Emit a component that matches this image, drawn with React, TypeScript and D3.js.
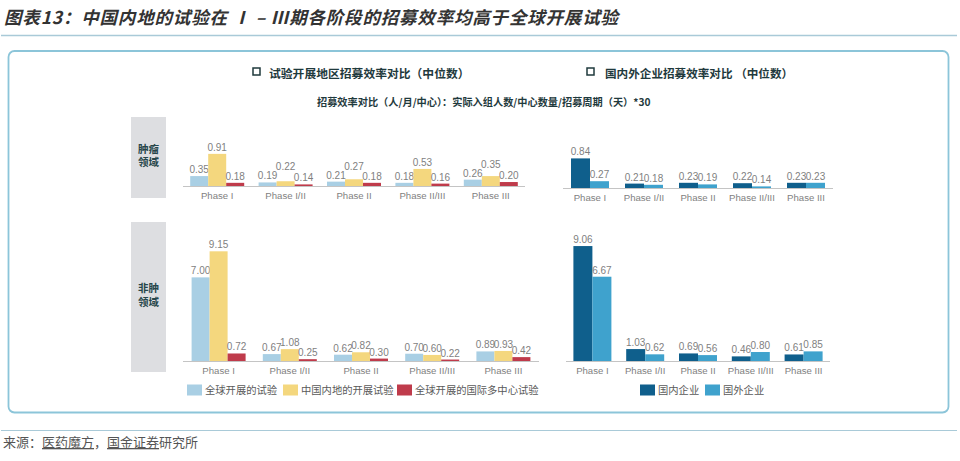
import React from "react";
import { scaleBand, scaleLinear } from "d3";

const PHASES = ["Phase I", "Phase I/II", "Phase II", "Phase II/III", "Phase III"];

// 试验开展地区 (region)
const REGION_NAMES = ["全球开展的试验", "中国内地的开展试验", "全球开展的国际多中心试验"];
const REGION_COLORS = ["#a9cfe4", "#f4d77e", "#bf3b4b"];
const tumorGlobal = [0.35, 0.19, 0.21, 0.18, 0.26];
const tumorChina = [0.91, 0.22, 0.27, 0.53, 0.35];
const tumorMrct = [0.18, 0.14, 0.18, 0.16, 0.2];
const nonTumorGlobal = [7.0, 0.67, 0.62, 0.7, 0.89];
const nonTumorChina = [9.15, 1.08, 0.82, 0.6, 0.93];
const nonTumorMrct = [0.72, 0.25, 0.3, 0.22, 0.42];

// 国内外企业 (company)
const COMPANY_NAMES = ["国内企业", "国外企业"];
const COMPANY_COLORS = ["#0f5f8c", "#3fa2cd"];
const tumorDomestic = [0.84, 0.21, 0.23, 0.22, 0.23];
const tumorForeign = [0.27, 0.18, 0.19, 0.14, 0.23];
const nonTumorDomestic = [9.06, 1.03, 0.69, 0.46, 0.61];
const nonTumorForeign = [6.67, 0.62, 0.56, 0.8, 0.85];

const CJK = "'Noto Sans CJK SC', 'Noto Sans', sans-serif";
const LATIN = "'Liberation Sans', Arial, sans-serif";
const LABEL_GRAY = "#7f7f7f";

interface PanelProps {
  series: number[][];
  colors: string[];
  x0: number;
  x1: number;
  baseline: number;
  domainMax: number;
  height: number;
  barWidth: number;
  liftMiddle?: boolean;
}

const Panel = ({ series, colors, x0, x1, baseline, domainMax, height, barWidth, liftMiddle }: PanelProps) => {
  const x = scaleBand().domain(PHASES).range([x0, x1]);
  const keys = series.map((_, i) => String(i));
  const inner = scaleBand().domain(keys).range([0, barWidth * series.length]);
  const y = scaleLinear().domain([0.1, domainMax]).range([baseline, baseline - height]);
  const offset = (x.bandwidth() - barWidth * series.length) / 2;

  return (
    <g>
      {PHASES.map((p, pi) => {
        const tops = series.map((vals) => Math.min(y(vals[pi]), baseline));
        const labelY = tops.map((t) => t - 3);
        // middle label nudged above its neighbours when they crowd it (as in the source)
        if (liftMiddle && series.length === 3) {
          const lim = Math.min(labelY[0], labelY[2]) - 9;
          labelY[1] = Math.min(labelY[1], lim);
        }
        return (
          <g key={p}>
            {series.map((vals, si) => {
              const bx = (x(p) as number) + offset + (inner(String(si)) as number);
              return (
                <g key={si}>
                  <rect
                    x={bx}
                    y={tops[si]}
                    width={inner.bandwidth()}
                    height={baseline - tops[si]}
                    fill={colors[si]}
                  />
                  <text
                    x={bx + inner.bandwidth() / 2}
                    y={labelY[si]}
                    textAnchor="middle"
                    fontSize={10}
                    fontFamily={LATIN}
                    fill={LABEL_GRAY}
                  >
                    {vals[pi].toFixed(2)}
                  </text>
                </g>
              );
            })}
            <text
              x={(x(p) as number) + x.bandwidth() / 2}
              y={baseline + 12.5}
              textAnchor="middle"
              fontSize={9.6}
              fontFamily={LATIN}
              fill={LABEL_GRAY}
            >
              {p}
            </text>
          </g>
        );
      })}
      <line x1={x0} x2={x1} y1={baseline + 0.5} y2={baseline + 0.5} stroke="#c4c4c4" strokeWidth={1} />
    </g>
  );
};

const Legend = ({ names, colors, xs, y }: { names: string[]; colors: string[]; xs: number[]; y: number }) => (
  <g>
    {names.map((n, i) => (
      <g key={n}>
        <rect x={xs[i]} y={y - 5.5} width={15} height={11} fill={colors[i]} />
        <text x={xs[i] + 18} y={y + 4} fontSize={10.3} fontFamily={CJK} fill="#595959">
          {n}
        </text>
      </g>
    ))}
  </g>
);

const SideLabel = ({ y0, y1, lines }: { y0: number; y1: number; lines: string[] }) => {
  const cy = (y0 + y1) / 2;
  return (
    <g>
      <rect x={131} y={y0} width={35} height={y1 - y0} fill="#dddee1" />
      {lines.map((l, i) => (
        <text
          key={l}
          x={148.5}
          y={cy + 2 + (i - (lines.length - 1) / 2) * 13.5}
          textAnchor="middle"
          fontSize={10.5}
          fontWeight="bold"
          fontFamily={CJK}
          fill="#27464a"
        >
          {l}
        </text>
      ))}
    </g>
  );
};

export default function App() {
  return (
    <svg
      width={960}
      height={461}
      style={{ position: "absolute", left: 0, top: 0, background: "#fff" }}
    >
      <text
        x={4}
        y={24}
        fontSize={17.5}
        fontWeight="bold"
        fontStyle="italic"
        fontFamily={CJK}
        fill="#333"
        textLength={614}
        lengthAdjust="spacing"
      >
        图表13：中国内地的试验在 Ⅰ – Ⅲ期各阶段的招募效率均高于全球开展试验
      </text>
      <line x1={1} x2={957} y1={35.5} y2={35.5} stroke="#a9cad8" strokeWidth={1.5} />

      <rect x={8.5} y={51} width={940} height={361.5} rx={6} fill="none" stroke="#8cc5d9" strokeWidth={1.8} />

      <rect x={253} y={68} width={7} height={7} fill="none" stroke="#1f3a3d" strokeWidth={1.5} />
      <text x={269} y={78} fontSize={11.8} fontWeight="bold" fontFamily={CJK} fill="#1f3a3d">
        试验开展地区招募效率对比（中位数）
      </text>
      <rect x={587} y={68} width={7} height={7} fill="none" stroke="#1f3a3d" strokeWidth={1.5} />
      <text x={605} y={78} fontSize={11.6} fontWeight="bold" fontFamily={CJK} fill="#1f3a3d">
        国内外企业招募效率对比 （中位数）
      </text>
      <text x={317} y={106} fontSize={10.2} fontWeight="bold" fontFamily={CJK} fill="#1f3a3d">
        招募效率对比（人/月/中心）：实际入组人数/中心数量/招募周期（天）*30
      </text>

      <SideLabel y0={117} y1={198} lines={["肿瘤", "领域"]} />
      <SideLabel y0={222} y1={372} lines={["非肿", "领域"]} />

      <Panel
        series={[tumorGlobal, tumorChina, tumorMrct]}
        colors={REGION_COLORS}
        x0={183}
        x1={525}
        baseline={186}
        domainMax={1}
        height={35.7}
        barWidth={18}
        liftMiddle
      />
      <Panel
        series={[nonTumorGlobal, nonTumorChina, nonTumorMrct]}
        colors={REGION_COLORS}
        x0={183}
        x1={539}
        baseline={361}
        domainMax={10}
        height={120}
        barWidth={18}
      />
      <Panel
        series={[tumorDomestic, tumorForeign]}
        colors={COMPANY_COLORS}
        x0={563}
        x1={833}
        baseline={188}
        domainMax={1}
        height={36}
        barWidth={19}
      />
      <Panel
        series={[nonTumorDomestic, nonTumorForeign]}
        colors={COMPANY_COLORS}
        x0={566}
        x1={830}
        baseline={361}
        domainMax={10}
        height={127}
        barWidth={19}
      />

      <Legend names={REGION_NAMES} colors={REGION_COLORS} xs={[187, 283, 397]} y={390} />
      <Legend names={COMPANY_NAMES} colors={COMPANY_COLORS} xs={[640, 705]} y={390} />

      <line x1={1} x2={957} y1={430.5} y2={430.5} stroke="#a9cad8" strokeWidth={1} />
      <text x={3} y={447} fontSize={13} fontFamily={CJK} fill="#555">
        <tspan>来源：</tspan>
        <tspan textDecoration="underline">医药魔方</tspan>
        <tspan>，</tspan>
        <tspan textDecoration="underline">国金证券</tspan>
        <tspan>研究所</tspan>
      </text>
    </svg>
  );
}
